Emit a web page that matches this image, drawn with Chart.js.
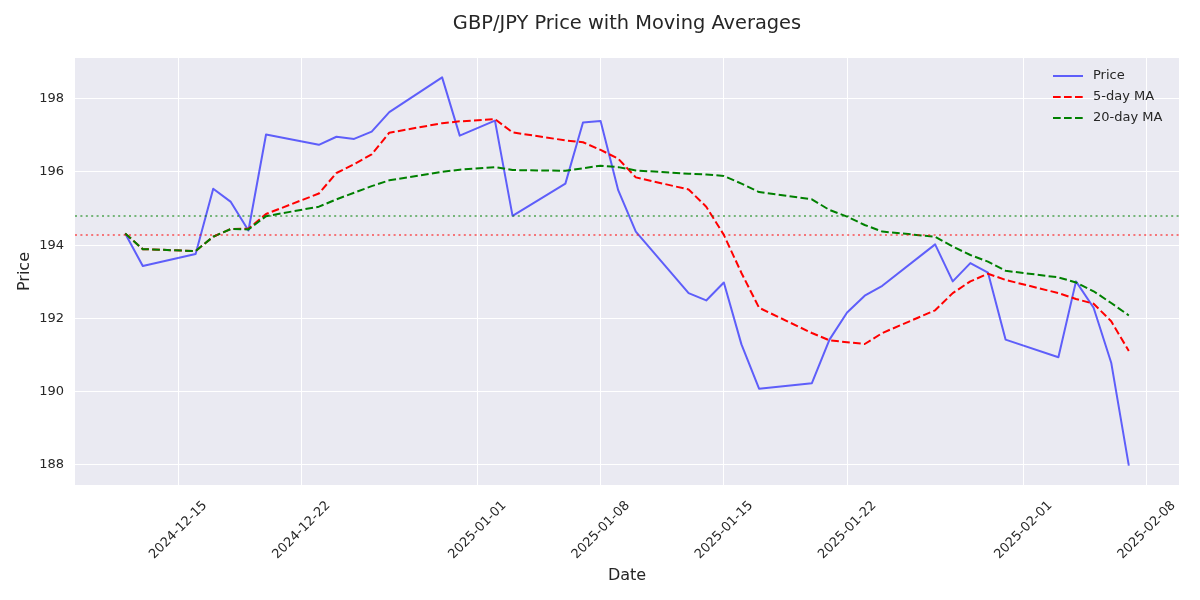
<!DOCTYPE html>
<html>
<head>
<meta charset="utf-8">
<script src="https://cdn.jsdelivr.net/npm/chart.js@4.4.1/dist/chart.umd.min.js"></script>
<style>
html, body { margin: 0; padding: 0; background: #ffffff; }
</style>
</head>
<body>
<canvas id="graph" width="1200" height="600"></canvas>
<script>
// trading days shown on the chart
var dates = [
    '2024-12-12', '2024-12-13', '2024-12-16', '2024-12-17', '2024-12-18', '2024-12-19', '2024-12-20',
    '2024-12-23', '2024-12-24', '2024-12-25', '2024-12-26', '2024-12-27', '2024-12-30', '2024-12-31',
    '2025-01-02', '2025-01-03', '2025-01-06', '2025-01-07', '2025-01-08', '2025-01-09', '2025-01-10',
    '2025-01-13', '2025-01-14', '2025-01-15', '2025-01-16', '2025-01-17', '2025-01-20', '2025-01-21',
    '2025-01-22', '2025-01-23', '2025-01-24', '2025-01-27', '2025-01-28', '2025-01-29', '2025-01-30',
    '2025-01-31', '2025-02-03', '2025-02-04', '2025-02-05', '2025-02-06', '2025-02-07'
];
var price = [
    194.32, 193.43, 193.76, 195.54, 195.18, 194.40, 197.02,
    196.74, 196.96, 196.90, 197.10, 197.63, 198.58, 196.99,
    197.40, 194.80, 195.68, 197.35, 197.39, 195.50, 194.37,
    192.69, 192.49, 192.98, 191.29, 190.08, 190.23, 191.42,
    192.16, 192.62, 192.89, 194.02, 193.01, 193.51, 193.25,
    191.42, 190.94, 193.01, 192.29, 190.79, 187.98
];
var ma5 = [
    194.32, 193.89, 193.84, 194.23, 194.44, 194.45, 194.85,
    195.41, 195.97, 196.21, 196.48, 197.07, 197.33, 197.38,
    197.44, 197.08, 196.86, 196.81, 196.60, 196.36, 195.85,
    195.52, 195.05, 194.28, 193.24, 192.29, 191.60, 191.40,
    191.35, 191.30, 191.60, 192.22, 192.69, 193.01, 193.22,
    193.05, 192.69, 192.53, 192.40, 191.92, 191.11
];
var ma20 = [
    194.32, 193.89, 193.84, 194.23, 194.44, 194.43, 194.79,
    195.05, 195.25, 195.43, 195.61, 195.77, 196.00, 196.06,
    196.13, 196.05, 196.03, 196.10, 196.17, 196.13, 196.04,
    195.95, 195.93, 195.89, 195.68, 195.45, 195.25, 194.96,
    194.78, 194.55, 194.37, 194.23, 193.96, 193.73, 193.55,
    193.30, 193.12, 192.98, 192.74, 192.42, 192.08
];
// dotted reference levels
var levelGreen = 194.80;
var levelRed = 194.29;

var xTickLabels = ['2024-12-15', '2024-12-22', '2025-01-01', '2025-01-08', '2025-01-15', '2025-01-22', '2025-02-01', '2025-02-08'];
var yTickValues = [188, 190, 192, 194, 196, 198];

var titleText = 'GBP/JPY Price with Moving Averages';
var textColor = '#262626';

function dayNum(s) {
    var p = s.split('-');
    return Date.UTC(+p[0], +p[1] - 1, +p[2]) / 86400000;
}
function dayLabel(v) {
    return new Date(Math.round(v) * 86400000).toISOString().slice(0, 10);
}
function toPoints(values) {
    return values.map(function (v, i) { return { x: dayNum(dates[i]), y: v }; });
}

// matplotlib-like 5% margins
var xFirst = dayNum(dates[0]), xLast = dayNum(dates[dates.length - 1]);
var xPad = (xLast - xFirst) * 0.05;
var yLo = Math.min.apply(null, price), yHi = Math.max.apply(null, price);
var yPad = (yHi - yLo) * 0.05;

// plot background, dotted levels, title and legend
var decor = {
    id: 'decor',
    beforeDraw: function (chart) {
        var a = chart.chartArea, c = chart.ctx;
        c.save();
        c.fillStyle = '#EAEAF2';
        c.fillRect(a.left, a.top, a.right - a.left, a.bottom - a.top);
        c.restore();
    },
    afterDatasetsDraw: function (chart) {
        var a = chart.chartArea, c = chart.ctx, y = chart.scales.y;
        c.save();
        c.lineWidth = 2;
        c.setLineDash([2, 3.4]);
        [[levelGreen, 'rgba(0,128,0,0.5)'], [levelRed, 'rgba(255,0,0,0.5)']].forEach(function (l) {
            var py = Math.round(y.getPixelForValue(l[0]));
            c.strokeStyle = l[1];
            c.beginPath();
            c.moveTo(a.left, py);
            c.lineTo(a.right, py);
            c.stroke();
        });
        c.restore();
    },
    afterDraw: function (chart) {
        var a = chart.chartArea, c = chart.ctx;
        c.save();
        // title centred over the plot area
        c.font = '19.4px "DejaVu Sans"';
        c.fillStyle = textColor;
        c.textAlign = 'center';
        c.textBaseline = 'middle';
        c.fillText(titleText, (a.left + a.right) / 2, 24);

        c.font = '13px "DejaVu Sans"';
        c.textAlign = 'left';
        chart.data.datasets.forEach(function (ds, i) {
            var ly = 76 + i * 21;
            c.strokeStyle = ds.borderColor;
            c.lineWidth = 2;
            c.setLineDash(ds.borderDash || []);
            c.beginPath();
            c.moveTo(1053, ly);
            c.lineTo(1083, ly);
            c.stroke();
            c.fillStyle = textColor;
            c.fillText(ds.label, 1093, ly);
        });
        c.restore();
    }
};

var ctx = document.getElementById('graph').getContext('2d');
var myChart = new Chart(ctx, {
    type: 'line',
    data: {
        datasets: [
            {
                label: 'Price',
                data: toPoints(price),
                borderColor: 'rgba(0,0,255,0.6)',
                borderWidth: 2,
                order: 3
            },
            {
                label: '5-day MA',
                data: toPoints(ma5),
                borderColor: '#ff0000',
                borderWidth: 2,
                borderDash: [7.7, 3.3],
                order: 2
            },
            {
                label: '20-day MA',
                data: toPoints(ma20),
                borderColor: '#008000',
                borderWidth: 2,
                borderDash: [7.7, 3.3],
                order: 1
            }
        ]
    },
    options: {
        responsive: false,
        animation: false,
        elements: {
            point: { radius: 0 },
            line: { tension: 0, fill: false, borderCapStyle: 'butt', borderJoinStyle: 'round' }
        },
        layout: {
            padding: { left: 0, right: 21, top: 58, bottom: 0 }
        },
        scales: {
            x: {
                type: 'linear',
                min: xFirst - xPad,
                max: xLast + xPad,
                afterBuildTicks: function (scale) {
                    scale.ticks = xTickLabels.map(function (t) { return { value: dayNum(t) }; });
                },
                afterFit: function (scale) { scale.height = 115; },
                ticks: {
                    autoSkip: false,
                    minRotation: 45,
                    maxRotation: 45,
                    labelOffset: 27,
                    padding: 13,
                    color: textColor,
                    font: { family: 'DejaVu Sans', size: 13 },
                    callback: function (v) { return dayLabel(v); }
                },
                grid: { color: '#ffffff', lineWidth: 1, drawTicks: false },
                border: { display: false },
                title: {
                    display: true,
                    text: 'Date',
                    color: textColor,
                    font: { family: 'DejaVu Sans', size: 16 },
                    padding: { top: 0, bottom: 15 }
                }
            },
            y: {
                min: yLo - yPad,
                max: yHi + yPad,
                afterBuildTicks: function (scale) {
                    scale.ticks = yTickValues.map(function (v) { return { value: v }; });
                },
                afterFit: function (scale) { scale.width = 75; },
                ticks: {
                    padding: 11,
                    color: textColor,
                    font: { family: 'DejaVu Sans', size: 13 }
                },
                grid: { color: '#ffffff', lineWidth: 1, drawTicks: false },
                border: { display: false },
                title: {
                    display: true,
                    text: 'Price',
                    color: textColor,
                    font: { family: 'DejaVu Sans', size: 16 },
                    padding: { top: 15, bottom: 0 }
                }
            }
        },
        plugins: {
            legend: { display: false },
            tooltip: { enabled: false },
            title: { display: false }
        }
    },
    plugins: [decor]
});
</script>
</body>
</html>
